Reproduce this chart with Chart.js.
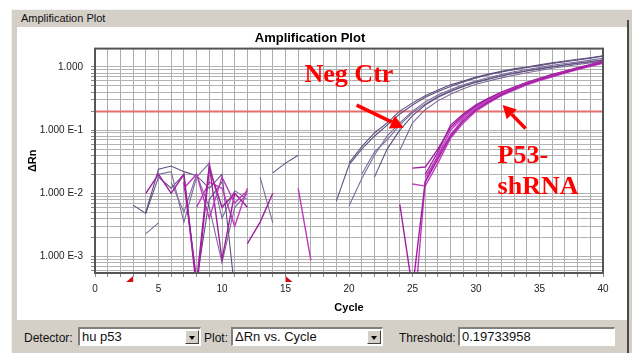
<!DOCTYPE html>
<html>
<head>
<meta charset="utf-8">
<script src="https://cdn.jsdelivr.net/npm/chart.js@4.4.1/dist/chart.umd.min.js"></script>
<style>
  body { margin:0; width:644px; height:353px; overflow:hidden; background:#fff; position:relative; font-family:"Liberation Sans", Arial, sans-serif; }
  #frame { position:absolute; left:11px; top:9px; width:620px; height:344px; background:#d4d0c8; border-top:1px solid #f4f4f4; border-left:1px solid #f4f4f4; }
  #groupLabel { position:absolute; left:21px; top:12px; font-size:11px; color:#111; }
  #panel { position:absolute; left:17px; top:27px; width:610px; height:293px; background:#fff; }
  #rightEdge { position:absolute; left:627px; top:20px; width:2px; height:333px; background:#4a4a4a; }
  .lbl { position:absolute; top:331px; font-size:12px; color:#111; }
  .box { position:absolute; top:327px; height:16px; background:#fff; border-top:2px solid #808080; border-left:2px solid #808080; border-bottom:1px solid #fff; border-right:1px solid #fff; font-size:13px; line-height:16px; padding-left:2px; color:#111; box-sizing:content-box; }
  .btn { position:absolute; right:1px; top:1px; width:14px; height:14px; background:#d4d0c8; border-top:1px solid #fff; border-left:1px solid #fff; border-right:1px solid #404040; border-bottom:1px solid #404040; box-sizing:border-box; }
  .btn:after { content:""; position:absolute; left:3px; top:5px; border-left:3px solid transparent; border-right:3px solid transparent; border-top:4px solid #000; }
  #chartWrap { position:absolute; left:17px; top:27px; width:610px; height:293px; }
</style>
</head>
<body>
<div id="frame"></div>
<div id="groupLabel">Amplification Plot</div>
<div id="panel"></div>
<div id="rightEdge"></div>
<div id="chartWrap"><canvas id="chartContainer"></canvas></div>

<div class="lbl" style="left:24px">Detector:</div>
<div class="box" style="left:78px;width:118px">hu p53<span class="btn"></span></div>
<div class="lbl" style="left:204px">Plot:</div>
<div class="box" style="left:231px;width:147px">ΔRn vs. Cycle<span class="btn"></span></div>
<div class="lbl" style="left:399px">Threshold:</div>
<div class="box" style="left:458px;width:152px">0.19733958</div>

<script>
// cycles on the x axis
const cycles = [0,1,2,3,4,5,6,7,8,9,10,11,12,13,14,15,16,17,18,19,20,21,22,23,24,25,26,27,28,29,30,31,32,33,34,35,36,37,38,39,40];
const xTickValues = [0,5,10,15,20,25,30,35,40];
const yTickValues = [0.001,0.01,0.1,1];
const yTickLabels = ['1.000 E-3','1.000 E-2','1.000 E-1','1.000'];
const threshold = 0.19733958;
const baselineMarks = [3,15];

// Neg Ctr wells (delta Rn per cycle, null = not shown)
const negCtr1 = [null,null,null,null,0.005,0.024,0.027,0.022,0.019,0.012,0.02,0.0003,null,null,null,null,null,null,null,0.0075,0.028,0.05,0.08,0.12,0.18,0.25,0.33,0.41,0.49,0.58,0.67,0.75,0.83,0.9,0.98,1.05,1.13,1.21,1.29,1.38,1.48];
const negCtr2 = [null,null,null,null,null,0.02,0.022,0.0035,0.018,0.03,0.004,0.011,0.008,null,null,null,null,null,null,null,0.0063,0.017,0.04,0.08,0.13,0.2,0.28,0.36,0.44,0.52,0.6,0.68,0.76,0.84,0.91,0.98,1.06,1.13,1.2,1.28,1.37];
const negCtr3 = [null,null,null,0.0065,0.0048,0.018,0.012,0.02,0.0004,0.008,0.015,null,null,null,null,null,null,null,null,null,null,null,0.018,0.05,0.1,0.17,0.25,0.33,0.41,0.49,0.57,0.64,0.72,0.79,0.86,0.93,1.0,1.07,1.14,1.21,1.28];
const negCtr4 = [null,null,null,null,0.0023,0.0034,null,null,null,null,null,null,null,0.018,0.0034,null,null,null,null,null,null,null,null,null,0.048,0.13,0.21,0.29,0.37,0.45,0.53,0.6,0.67,0.74,0.81,0.88,0.95,1.02,1.09,1.16,1.23];
const negCtr5 = [null,null,null,null,null,null,null,null,null,null,null,null,null,null,0.021,0.03,0.04,null,null,null,0.03,0.055,0.09,0.13,0.2,0.27,0.35,0.43,0.52,0.6,0.69,0.77,0.85,0.93,1.0,1.08,1.16,1.24,1.32,1.4,1.5];
const negCtr6 = [null,null,null,null,null,null,0.015,0.005,0.02,0.006,0.0008,0.006,0.01,null,null,null,null,null,null,null,null,0.02,0.045,0.07,0.12,0.19,0.26,0.34,0.42,0.5,0.58,0.65,0.73,0.8,0.87,0.94,1.01,1.08,1.15,1.22,1.3];

// P53-shRNA wells
const p53a = [null,null,null,null,0.01,0.02,0.01,0.02,0.0003,0.025,0.006,0.01,null,null,null,null,null,null,null,null,null,null,null,null,0.0067,0.0003,0.015,0.035,0.08,0.14,0.21,0.28,0.36,0.45,0.54,0.63,0.72,0.82,0.93,1.05,1.18];
const p53b = [null,null,null,null,null,null,null,0.012,0.02,0.004,0.018,0.007,0.011,null,null,null,null,null,null,null,null,null,null,null,null,0.00006,0.0155,0.04,0.1,0.16,0.23,0.3,0.38,0.46,0.55,0.64,0.73,0.83,0.94,1.06,1.2];
const p53c = [null,null,null,null,null,null,null,null,null,null,null,null,0.0016,0.0035,0.01,null,null,null,null,null,null,null,null,null,null,0.025,0.026,0.05,0.11,0.17,0.24,0.31,0.39,0.47,0.56,0.65,0.75,0.85,0.96,1.08,1.22];
const p53d = [null,null,null,null,null,null,null,null,null,null,null,null,null,null,null,null,0.012,0.00087,null,null,null,null,null,null,null,0.014,0.013,0.03,0.075,0.13,0.2,0.27,0.35,0.43,0.52,0.61,0.7,0.8,0.91,1.02,1.14];
const p53e = [null,null,null,null,null,null,null,0.015,0.0004,0.028,0.0009,0.01,0.006,null,null,null,null,null,null,null,null,null,null,null,null,null,0.02,0.045,0.12,0.18,0.25,0.32,0.4,0.48,0.57,0.66,0.76,0.86,0.97,1.09,1.24];
const p53f = [null,null,null,null,null,null,null,null,0.006,0.015,0.012,0.003,0.012,null,null,null,null,null,null,null,null,null,null,null,null,null,0.018,0.038,0.085,0.15,0.22,0.29,0.37,0.45,0.54,0.63,0.72,0.82,0.93,1.04,1.16];

const negWells = [negCtr1, negCtr2, negCtr3, negCtr4, negCtr5, negCtr6];
const p53Wells = [p53a, p53b, p53c, p53d, p53e, p53f];
const negColors = ['#5f4f80', '#7b6c99'];
const p53Colors = ['#a01f9f', '#c03ac0'];

function wellDataset(values, color, width) {
  return {
    data: values,
    borderColor: color,
    borderWidth: width,
    pointRadius: 0,
    tension: 0,
    spanGaps: false
  };
}

let datasets = [];
p53Wells.forEach((w, i) => datasets.push(wellDataset(w, p53Colors[i % 2], 1.4)));
negWells.forEach((w, i) => datasets.push(wellDataset(w, negColors[i % 2], 1.1)));
// threshold line, last so it sits under the curves
datasets.push({
  data: [{x: 0, y: threshold}, {x: 40, y: threshold}],
  borderColor: '#e27070',
  borderWidth: 2,
  pointRadius: 0
});

// red notes and arrows, placed in data units
const notes = [
  {text: 'Neg Ctr', x: 16.5, y: 0.57},
  {text: 'P53-', x: 31.7, y: 0.0296},
  {text: 'shRNA', x: 31.7, y: 0.0099}
];
const arrows = [
  {from: [20.6, 0.249], to: [24.3, 0.109]},
  {from: [33.9, 0.106], to: [32.1, 0.249]}
];

const extras = {
  id: 'extras',
  afterDatasetsDraw(chart) {
    const {ctx, chartArea: a, scales: {x, y}} = chart;
    ctx.save();
    // plot frame
    ctx.strokeStyle = '#555';
    ctx.lineWidth = 2;
    ctx.strokeRect(a.left, a.top, a.right - a.left, a.bottom - a.top);
    // baseline start / end markers
    ctx.fillStyle = '#d01010';
    baselineMarks.forEach((c, i) => {
      const px = x.getPixelForValue(c);
      const top = a.bottom + 3;
      ctx.beginPath();
      if (i === 0) { ctx.moveTo(px, top); ctx.lineTo(px, top + 6); ctx.lineTo(px - 7, top + 6); }
      else { ctx.moveTo(px, top); ctx.lineTo(px, top + 6); ctx.lineTo(px + 7, top + 6); }
      ctx.closePath();
      ctx.fill();
    });
    // arrows
    ctx.strokeStyle = '#ff0000';
    ctx.fillStyle = '#ff0000';
    ctx.lineWidth = 3.5;
    arrows.forEach(ar => {
      const x1 = x.getPixelForValue(ar.from[0]), y1 = y.getPixelForValue(ar.from[1]);
      const x2 = x.getPixelForValue(ar.to[0]), y2 = y.getPixelForValue(ar.to[1]);
      const ang = Math.atan2(y2 - y1, x2 - x1);
      const hl = 13, hw = 7;
      const bx = x2 - hl * Math.cos(ang), by = y2 - hl * Math.sin(ang);
      ctx.beginPath();
      ctx.moveTo(x1, y1);
      ctx.lineTo(bx, by);
      ctx.stroke();
      ctx.beginPath();
      ctx.moveTo(x2, y2);
      ctx.lineTo(bx + hw * Math.sin(ang), by - hw * Math.cos(ang));
      ctx.lineTo(bx - hw * Math.sin(ang), by + hw * Math.cos(ang));
      ctx.closePath();
      ctx.fill();
    });
    // labels
    ctx.font = 'bold 26px "Liberation Serif", "Times New Roman", serif';
    ctx.textBaseline = 'alphabetic';
    ctx.textAlign = 'left';
    notes.forEach(n => ctx.fillText(n.text, x.getPixelForValue(n.x), y.getPixelForValue(n.y)));
    ctx.restore();
  }
};

const uiFont = {family: '"Liberation Sans", Arial, sans-serif', size: 10};

new Chart(document.getElementById('chartContainer'), {
  type: 'line',
  data: { labels: cycles, datasets: datasets },
  options: {
    responsive: true,
    maintainAspectRatio: false,
    animation: false,
    layout: { padding: { left: 0, right: 24, top: 0, bottom: 0 } },
    plugins: {
      legend: { display: false },
      tooltip: { enabled: false },
      title: {
        display: true,
        text: 'Amplification Plot',
        color: '#000',
        font: { family: '"Liberation Sans", Arial, sans-serif', size: 13, weight: 'bold', lineHeight: 1.2 },
        padding: { top: 4, bottom: 2 }
      }
    },
    scales: {
      x: {
        type: 'linear',
        min: 0,
        max: 40,
        afterFit: s => { s.height = 47; },
        grid: { color: '#adadad', lineWidth: 1, tickLength: 4, tickColor: '#888' },
        border: { display: false },
        ticks: {
          stepSize: 1,
          autoSkip: false,
          maxRotation: 0,
          padding: 6,
          color: '#222',
          font: uiFont,
          callback: v => xTickValues.includes(v) ? String(v) : ''
        },
        title: {
          display: true,
          text: 'Cycle',
          color: '#000',
          font: { family: '"Liberation Sans", Arial, sans-serif', size: 11, weight: 'bold', lineHeight: 1.2 },
          padding: { top: 0, bottom: 5 }
        }
      },
      y: {
        type: 'logarithmic',
        min: 0.000547,
        max: 1.95,
        afterFit: s => { s.width = 78; },
        afterBuildTicks: s => {
          const t = [];
          for (let e = -4; e <= 0; e++) {
            for (let m = 1; m <= 9; m++) {
              const v = m * Math.pow(10, e);
              if (v >= s.min && v <= s.max) t.push({ value: v });
            }
          }
          s.ticks = t;
        },
        grid: { color: '#b3b3b3', lineWidth: 1, tickLength: 4, tickColor: '#888' },
        border: { display: false },
        ticks: {
          autoSkip: false,
          padding: 8,
          color: '#222',
          font: uiFont,
          callback: v => {
            const i = yTickValues.findIndex(t => Math.abs(t - v) / t < 1e-6);
            return i >= 0 ? yTickLabels[i] : '';
          }
        },
        title: {
          display: true,
          text: 'ΔRn',
          color: '#000',
          font: { family: '"Liberation Sans", Arial, sans-serif', size: 11, weight: 'bold', lineHeight: 1.2 },
          padding: { top: 9, bottom: 0 }
        }
      }
    }
  },
  plugins: [extras]
});
</script>
</body>
</html>
